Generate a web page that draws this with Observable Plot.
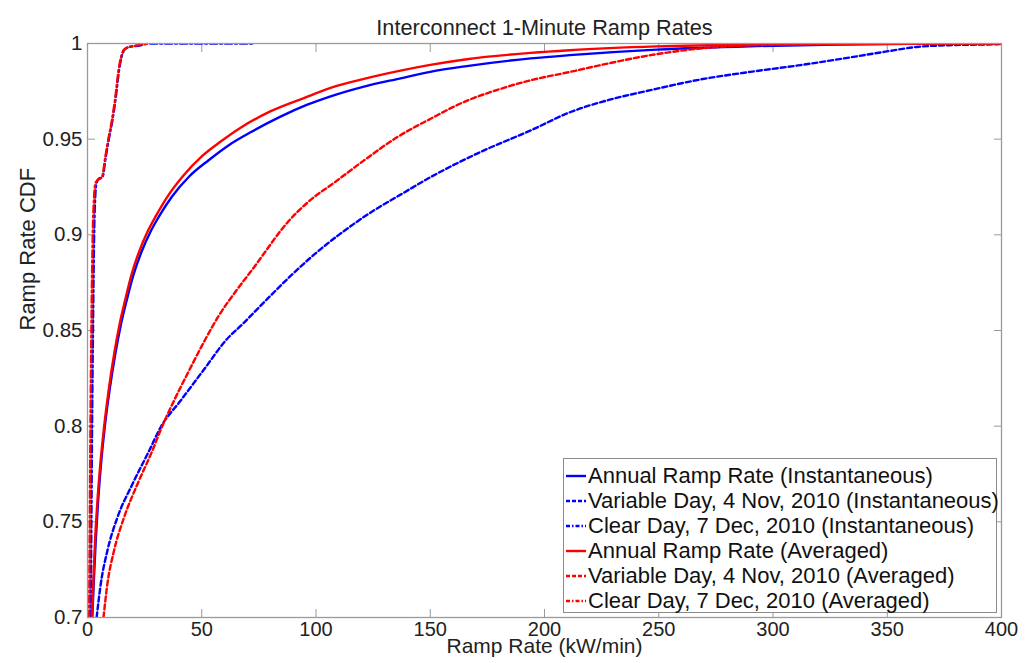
<!DOCTYPE html>
<html><head><meta charset="utf-8">
<script src="https://cdn.jsdelivr.net/npm/d3@7"></script>
<script src="https://cdn.jsdelivr.net/npm/@observablehq/plot@0.6"></script>
<style>
body{margin:0;background:#fff;font-family:"Liberation Sans",Arial,sans-serif;}
#wrap{position:relative;width:1036px;height:663px;}
#legend{position:absolute;left:563px;top:458px;width:434px;height:155px;box-sizing:border-box;border:1px solid #8a8a8a;background:#fff;}
.row{position:absolute;left:2px;height:25px;display:flex;align-items:center;font-size:22px;color:#111;white-space:nowrap;}
.row svg{margin-right:2px;}
</style></head><body>
<div id="wrap"><div id="legend"></div></div>
<script>
// ---- data ----
const title = "Interconnect 1-Minute Ramp Rates";
const xLabel = "Ramp Rate (kW/min)";
const yLabel = "Ramp Rate CDF";
const xTicks = [0, 50, 100, 150, 200, 250, 300, 350, 400];
const yTicks = [0.7, 0.75, 0.8, 0.85, 0.9, 0.95, 1];

const seriesNames = [
  "Annual Ramp Rate (Instantaneous)",
  "Variable Day, 4 Nov, 2010 (Instantaneous)",
  "Clear Day, 7 Dec, 2010 (Instantaneous)",
  "Annual Ramp Rate (Averaged)",
  "Variable Day, 4 Nov, 2010 (Averaged)",
  "Clear Day, 7 Dec, 2010 (Averaged)"
];
const seriesColors = ["#0000ff", "#0000ff", "#0000ff", "#ff0000", "#ff0000", "#ff0000"];
const seriesDash = [null, "5,3", "7,3,2,3", null, "5,3", "7,3,2,3"];

// Annual, instantaneous (blue solid)
const annualInstX = [2.1, 2.8, 3.6, 4.6, 5.9, 7.6, 9.8, 12.2, 14.6, 17.2, 20.1, 23.6, 27.3, 31.5, 37, 44.5, 53, 62, 72, 84, 96.2, 106.4, 121, 137, 150, 166, 194, 211, 249, 290, 330, 370, 400];
const annualInstY = [0.70, 0.72, 0.74, 0.76, 0.78, 0.80, 0.82, 0.838, 0.853, 0.866, 0.879, 0.891, 0.901, 0.91, 0.92, 0.9305, 0.939, 0.947, 0.954, 0.9615, 0.968, 0.9724, 0.9775, 0.9818, 0.9852, 0.9882, 0.9922, 0.9939, 0.9968, 0.9986, 0.9995, 0.9999, 1.0];
// Variable day, instantaneous (blue dashed)
const varInstX = [4, 5.8, 8.7, 13.1, 19.7, 27, 32, 40.8, 51.7, 60.5, 68, 78.7, 88, 99, 110, 125.4, 137, 150.2, 172, 194, 211.4, 227.5, 246.4, 268.3, 290.2, 312, 330, 348.5, 363, 380, 398, 400];
const varInstY = [0.70, 0.7175, 0.7349, 0.7523, 0.7698, 0.7872, 0.7994, 0.8134, 0.8308, 0.8448, 0.8535, 0.8665, 0.8775, 0.8895, 0.9, 0.9128, 0.921, 0.9302, 0.9433, 0.9546, 0.9642, 0.9703, 0.9756, 0.9812, 0.9852, 0.9887, 0.992, 0.9956, 0.9982, 0.9992, 0.9996, 0.9997];
// Clear day, instantaneous (blue dash-dot)
const clearInstX = [1.4, 1.7, 2.0, 2.4, 2.9, 3.4, 3.9, 5.1, 6.5, 8, 9.5, 10.9, 12.4, 13.8, 16, 17.5, 23.3, 26.2, 73];
const clearInstY = [0.70, 0.75, 0.80, 0.85, 0.90, 0.92, 0.927, 0.9294, 0.930, 0.9407, 0.9511, 0.9599, 0.9721, 0.986, 0.9965, 0.9979, 0.9991, 1.0, 1.0];
// Annual, averaged (red solid)
const annualAvgX = [2.0, 2.6, 3.3, 4.3, 5.6, 7.3, 9.4, 11.7, 14, 16.5, 19.2, 22.5, 26, 30, 35, 42, 50, 58, 67, 80, 94.7, 106.4, 121, 137, 150, 166, 194, 211, 249, 300, 350, 400];
const annualAvgY = [0.70, 0.72, 0.74, 0.76, 0.78, 0.80, 0.82, 0.838, 0.853, 0.866, 0.879, 0.891, 0.901, 0.91, 0.92, 0.931, 0.941, 0.9485, 0.956, 0.9645, 0.9715, 0.9768, 0.9815, 0.9858, 0.9888, 0.9918, 0.9951, 0.9965, 0.9985, 0.9995, 0.9999, 1.0];
// Variable day, averaged (red dashed)
const varAvgX = [7, 8.7, 11.6, 16, 21.9, 28.4, 32.5, 37.9, 45.2, 51.3, 57.6, 64.9, 72.9, 78, 84.6, 99.1, 106.4, 121, 135.6, 150.2, 164.7, 179.4, 194, 211.4, 224.5, 246.4, 268.3, 290, 320, 360, 400];
const varAvgY = [0.70, 0.7175, 0.7349, 0.7523, 0.7698, 0.7872, 0.7994, 0.8134, 0.8308, 0.8448, 0.858, 0.8705, 0.8831, 0.8915, 0.9023, 0.9197, 0.9259, 0.9389, 0.9511, 0.9607, 0.9694, 0.9758, 0.9808, 0.9852, 0.9887, 0.9939, 0.9974, 0.999, 0.9997, 0.9999, 1.0];
// Clear day, averaged (red dash-dot)
const clearAvgX = [0.7, 1.0, 1.3, 1.7, 2.3, 2.9, 3.5, 4.8, 6.3, 7.8, 9.3, 10.7, 12.2, 13.6, 15.8, 17.3, 22, 27];
const clearAvgY = [0.70, 0.75, 0.80, 0.85, 0.90, 0.92, 0.927, 0.929, 0.930, 0.9407, 0.9511, 0.9599, 0.9721, 0.986, 0.9965, 0.9978, 0.999, 1.0];

const seriesX = [annualInstX, varInstX, clearInstX, annualAvgX, varAvgX, clearAvgX];
const seriesY = [annualInstY, varInstY, clearInstY, annualAvgY, varAvgY, clearAvgY];

// ---- build tables ----
const tables = seriesX.map((xs, i) => xs.map((x, j) => ({x, y: seriesY[i][j]})));
const fmtY = v => String(+v.toFixed(2));
const font = '"Liberation Sans", Arial, sans-serif';
const axisGray = "#9a9a9a";

const lineMarks = tables.map((t, i) => Plot.line(t, {
  x: "x", y: "y", stroke: seriesColors[i], strokeWidth: 2.4, curve: "monotone-x",
  strokeDasharray: seriesDash[i] || undefined, clip: true
}));

const chart = Plot.plot({
  width: 1036, height: 663,
  marginLeft: 87, marginRight: 35, marginTop: 43, marginBottom: 46,
  style: {fontFamily: font, background: "#fff", color: "#222"},
  x: {domain: [0, 400]},
  y: {domain: [0.7, 1]},
  marks: [
    Plot.axisX(xTicks, {anchor: "bottom", tickSize: 8, dy: -8, tickFormat: () => "", stroke: axisGray, label: null}),
    Plot.axisX(xTicks, {anchor: "top", tickSize: 8, dy: 8, tickFormat: () => "", stroke: axisGray, label: null}),
    Plot.axisY(yTicks, {anchor: "left", tickSize: 8, dx: 8, tickFormat: () => "", stroke: axisGray, label: null}),
    Plot.axisY(yTicks, {anchor: "right", tickSize: 8, dx: -8, tickFormat: () => "", stroke: axisGray, label: null}),
    Plot.axisX(xTicks, {anchor: "bottom", tickSize: 0, tickPadding: 4, fontSize: 20, label: null, fill: "#222"}),
    Plot.axisY(yTicks, {anchor: "left", tickSize: 0, tickPadding: 5, fontSize: 20.5, label: null, tickFormat: fmtY, fill: "#222"}),
    ...lineMarks,
    Plot.frame({stroke: axisGray, strokeWidth: 1.3}),
    Plot.text([title], {text: d => d, frameAnchor: "top", dy: -24, fontSize: 21.7, fill: "#222"}),
    Plot.text([xLabel], {text: d => d, frameAnchor: "bottom", dy: 35.5, fontSize: 21, fill: "#222"}),
    Plot.text([yLabel], {text: d => d, frameAnchor: "left", dx: -60, rotate: -90, fontSize: 22, fill: "#222"})
  ]
});
document.getElementById("wrap").prepend(chart);

// ---- legend ----
const legend = document.getElementById("legend");
seriesNames.forEach((name, i) => {
  const row = document.createElement("div");
  row.className = "row";
  row.style.top = (4 + i * 25) + "px";
  const dash = seriesDash[i] ? ` stroke-dasharray="${seriesDash[i] === "5,3" ? "4,2" : "4,2,1.5,2"}"` : "";
  row.innerHTML = `<svg width="20" height="10"><line x1="0" y1="5" x2="20" y2="5" stroke="${seriesColors[i]}" stroke-width="2.4"${dash}/></svg><span>${name}</span>`;
  legend.appendChild(row);
});
</script>
</body></html>
